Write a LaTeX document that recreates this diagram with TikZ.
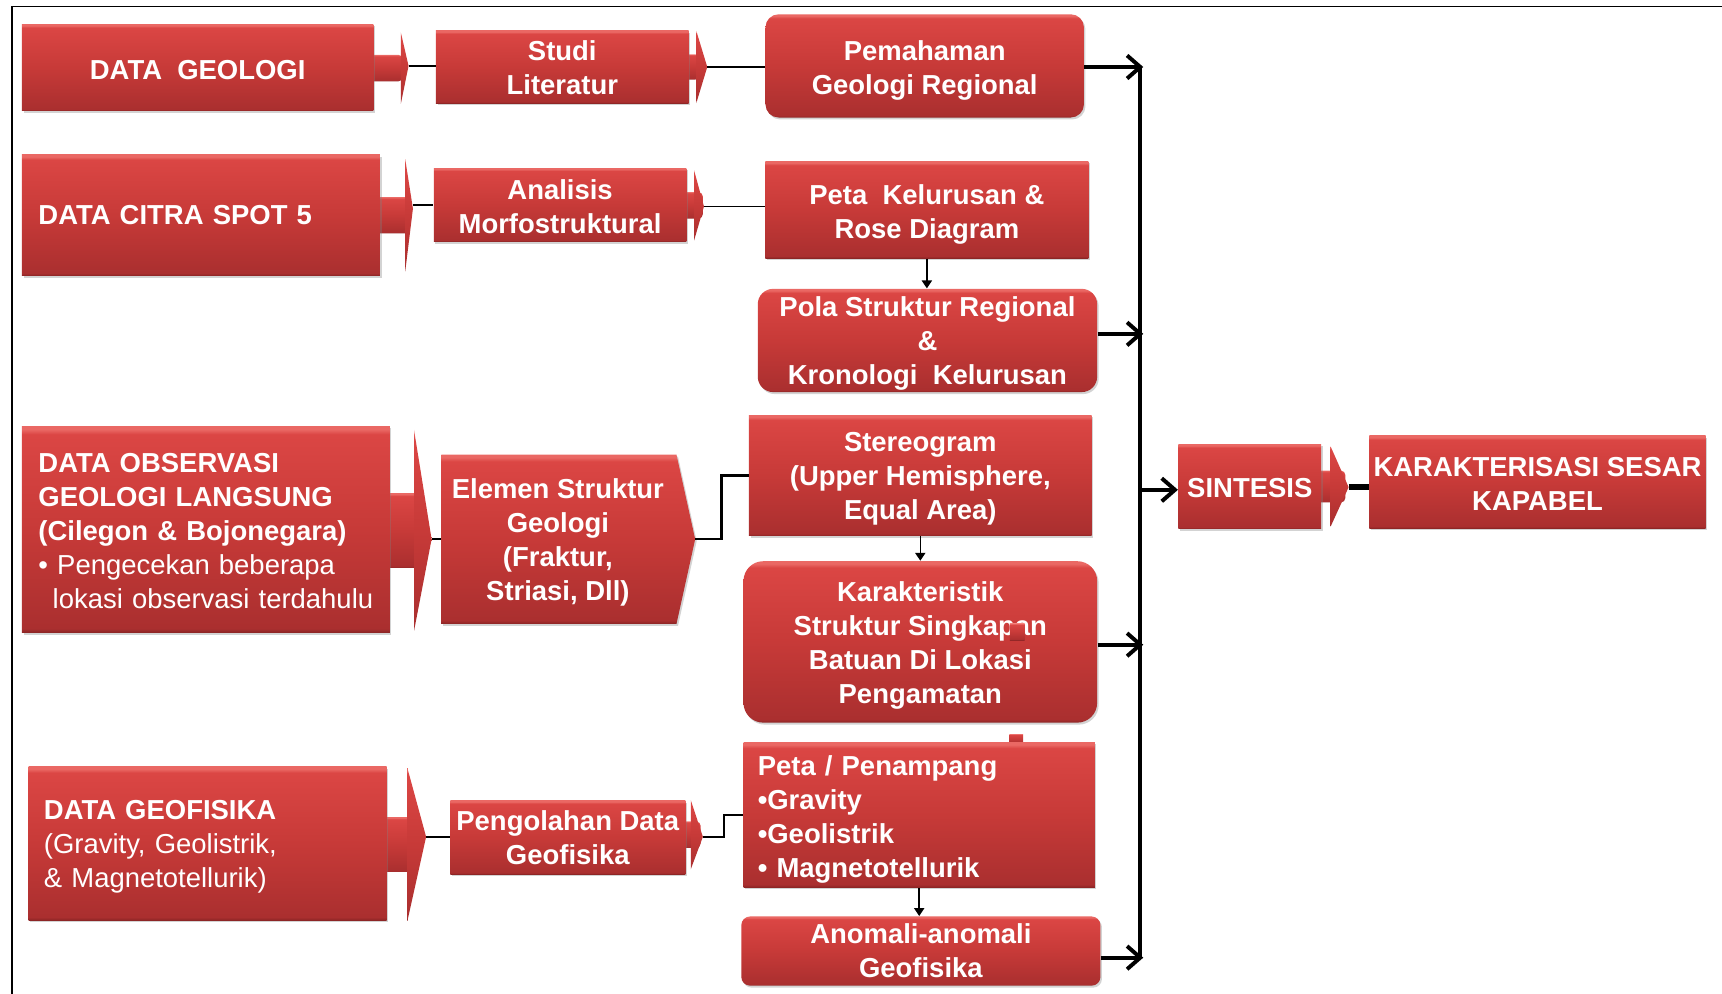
\documentclass[tikz,border=0pt]{standalone}
\usepackage{fontspec}
\setmainfont{Liberation Sans}
\usetikzlibrary{arrows.meta,shadows,calc}

\definecolor{rhi}{RGB}{234,104,100}
\definecolor{rtop}{RGB}{219,70,68}
\definecolor{rmid}{RGB}{199,58,56}
\definecolor{rbot}{RGB}{170,47,47}
\definecolor{rdark}{RGB}{138,36,36}

% bevelled red fill: light rim on top, darker rim at the bottom
\pgfdeclareverticalshading{redbevel}{100bp}{color(0bp)=(rdark); color(25bp)=(rdark); color(26bp)=(rbot); color(50bp)=(rmid); color(73bp)=(rtop); color(74.2bp)=(rhi); color(100bp)=(rhi)}

% invisible strut that sets the height of a first text line
\newcommand\lineheight[1]{\rule{0pt}{#1pt}}

\tikzset{
  shadowed/.style={drop shadow={shadow xshift=0.7pt, shadow yshift=-0.9pt, opacity=0.35}},
  redfill/.style={shading=redbevel, draw=none},
  boxtext/.style={inner sep=0pt, text=white,
    font=\bfseries\fontsize{12.5}{15.5}\selectfont, align=center},
  box/.style={boxtext, redfill, shadowed, rectangle},
  leftbox/.style={box, align=left, text width=#1},
  thinline/.style={draw=black, line width=0.7pt},
  midline/.style={draw=black, line width=1.1pt},
  busline/.style={draw=black, line width=1.5pt},
  bigarrow/.style={draw=black, line width=1.8pt, -{Straight Barb[length=6pt,width=10.5pt]}},
  smallarrow/.style={draw=black, line width=0.7pt, -{Triangle[length=3.6pt,width=4.6pt]}},
}

% arrow tab on the right of a box: stub, thin tall head, and a named tip
% #1 tip name, #2/#3 stub x range, #4 centre y, #5 stub half height,
% #6 head base x, #7 tip x, #8 head half height, #9 tip y
\newcommand\arrowtab[9]{%
  \path[redfill, rounded corners=2pt] (#2,#4-#5) rectangle (#3,#4+#5);
  \path[redfill] (#6,#4-#8) -- (#7,#9) -- (#6,#4+#8) -- cycle;
  \coordinate (#1) at (#7,#9);
}

\begin{document}
\begin{tikzpicture}[x=0.5pt,y=-0.5pt]
\useasboundingbox (0,0) rectangle (1568,905);

% outer frame (top and left edges)
\draw[line width=0.6pt] (11,905) -- (11,6) -- (1568,6);

% arrow tabs (drawn under the boxes)
\arrowtab{geo-tip}{335}{367}{62}{12}{365}{372}{32.5}{60}
\arrowtab{studi-tip}{620}{637}{61}{11.5}{634}{644}{33}{61}
\arrowtab{citra-tip}{340}{373}{196}{16.5}{369}{376}{51}{190}
\arrowtab{analisis-tip}{618}{640}{187}{12}{632}{641}{32}{188}
\arrowtab{obs-tip}{349}{382}{483}{34}{377}{393}{91.5}{491}
\arrowtab{geof-tip}{344}{380}{769}{25}{371}{388}{69.5}{762}
\arrowtab{peng-tip}{620}{638}{760}{12}{629}{640}{31.5}{762}
\arrowtab{sint-tip}{1196.5}{1225}{443}{14.5}{1211.6}{1228}{36.5}{443.6}

% row 1
\node[box, minimum width=160pt, minimum height=39.5pt] (geo) at (180,61.5) {\lineheight{10.8}DATA\ \ GEOLOGI};
\node[box, minimum width=115pt, minimum height=33pt] (studi) at (512,61) {\lineheight{10}Studi\\Literatur};
\node[box, rounded corners=6pt, minimum width=145pt, minimum height=47pt] (pem) at (842,60) {\lineheight{13}Pemahaman\\Geologi Regional};

% row 2
\node[leftbox=148pt, minimum width=163pt, minimum height=55pt] (citra) at (183,196) {DATA CITRA SPOT 5};
\node[box, minimum width=115pt, minimum height=33.5pt] (analisis) at (510,186.5) {\lineheight{11}Analisis\\Morfostruktural};
\node[box, minimum width=147pt, minimum height=44pt] (pkel) at (844,191) {\lineheight{13.5}Peta\ \ Kelurusan \&\\Rose Diagram};
\node[box, rounded corners=7pt, minimum width=154.5pt, minimum height=47pt] (pola) at (844.5,310) {\lineheight{12}Pola Struktur Regional\\\&\\Kronologi\ \ Kelurusan};

% row 3
\node[leftbox=152.5pt, minimum width=167.5pt, minimum height=94pt] (obs) at (187.5,482)
  {\lineheight{10}DATA OBSERVASI\\GEOLOGI LANGSUNG\\(Cilegon \& Bojonegara)\\{\mdseries • Pengecekan beberapa}\\{\mdseries\hspace*{6.5pt}lokasi observasi terdahulu}};
\path[redfill, shadowed] (402,414) -- (616,414) -- (633,491) -- (616,568) -- (402,568) -- cycle;
\coordinate (elemen-in) at (402,491);
\coordinate (elemen-out) at (633,491);
\node[boxtext] (elemen) at (508,491) {\lineheight{12}Elemen Struktur\\Geologi\\(Fraktur,\\Striasi, Dll)};
\node[box, minimum width=156pt, minimum height=55pt] (stereo) at (838,433) {\lineheight{12}Stereogram\\(Upper Hemisphere,\\Equal Area)};
\node[box, rounded corners=9pt, minimum width=161pt, minimum height=73.5pt] (karakter) at (838,584.5) {\lineheight{12}Karakteristik\\Struktur Singkapan\\Batuan Di Lokasi\\Pengamatan};
\path[redfill] (919.5,568) rectangle (933,583);

% row 4
\node[leftbox=149pt, minimum width=163pt, minimum height=70pt] (geof) at (189,768)
  {\lineheight{12}DATA GEOFISIKA\\{\mdseries (Gravity, Geolistrik,}\\{\mdseries \& Magnetotellurik)}};
\node[box, minimum width=107pt, minimum height=33.5pt] (peng) at (517,762.5) {Pengolahan Data\\Geofisika};
\path[redfill] (919,668.5) rectangle (931.5,677);
\node[leftbox=147pt, minimum width=160pt, minimum height=66pt] (petapen) at (837,742)
  {\lineheight{13}Peta / Penampang\\•Gravity\\•Geolistrik\\• Magnetotellurik};
\node[box, rounded corners=4pt, minimum width=163.5pt, minimum height=31.5pt] (anomali) at (838.5,866) {Anomali-anomali\\Geofisika};

% result column
\node[box, minimum width=65pt, minimum height=38.5pt] (sintesis) at (1138,443) {\lineheight{10}SINTESIS};
\node[box, minimum width=153pt, minimum height=42pt] (kapabel) at (1400,439) {\lineheight{10}KARAKTERISASI SESAR\\KAPABEL};

% connectors
\draw[thinline] (geo-tip) -- (geo-tip -| studi.west);
\draw[midline] (studi-tip) -- (studi-tip -| pem.west);
\draw[thinline] (citra-tip |- analisis.west) -- (analisis.west);
\draw[thinline] (analisis-tip) -- (analisis-tip -| pkel.west);
\draw[smallarrow] (pkel.south) -- (pkel.south |- pola.north);
\draw[thinline] (obs-tip) -- (elemen-in);
\draw[midline] (elemen-out) -- ++(24,0) |- (stereo.west);
\draw[smallarrow] (stereo.south) -- (karakter.north);
\draw[thinline] (geof-tip) -- (geof-tip -| peng.west);
\draw[midline] (peng-tip) -- ++(19,0) |- (petapen.west);
\draw[smallarrow] (petapen.south) -- (petapen.south |- anomali.north);

% collecting bus
\coordinate (bus-top) at (1038,61);
\coordinate (bus-bot) at (1038,872);
\draw[busline] (bus-top) -- (bus-bot);
\draw[bigarrow] (pem.east |- 0,61) -- (1041,61);
\draw[bigarrow] (pola.east |- 0,304) -- (1041,304);
\draw[bigarrow] (karakter.east |- 0,587) -- (1041,587);
\draw[bigarrow] (anomali.east |- 0,872) -- (1041,872);
\draw[bigarrow] (bus-top |- 0,446) -- (sintesis.west |- 0,446);
\draw[draw=black, line width=2.6pt] (sint-tip) -- (sint-tip -| kapabel.west);
\end{tikzpicture}
\end{document}
